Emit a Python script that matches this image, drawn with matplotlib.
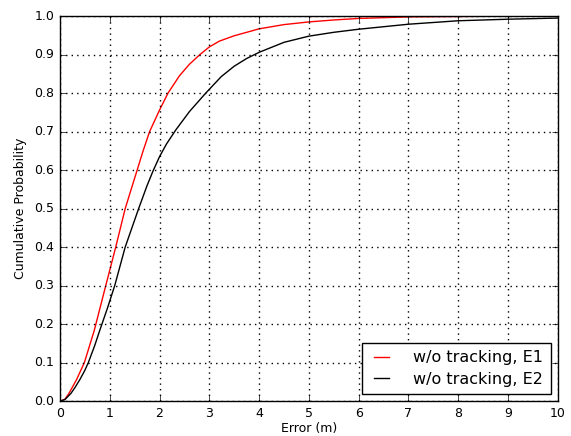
import matplotlib
matplotlib.use("Agg")
import matplotlib.pyplot as plt

# Data (error in m, cumulative probability)
e1_x = [0.0, 0.1, 0.18, 0.33, 0.49, 0.69, 0.92, 1.12, 1.31, 1.55, 1.67, 1.80, 2.0, 2.17, 2.4, 2.6, 2.81, 3.0, 3.2, 3.5, 4.0, 4.5, 5.0, 5.5, 6.0, 7.0, 8.0, 9.0, 10.0]
e1_y = [0.0, 0.005, 0.02, 0.055, 0.1, 0.184, 0.3, 0.4, 0.5, 0.6, 0.65, 0.7, 0.756, 0.8, 0.845, 0.875, 0.9, 0.92, 0.935, 0.949, 0.967, 0.978, 0.985, 0.99, 0.994, 0.998, 0.999, 1.0, 1.0]

e2_x = [0.0, 0.1, 0.22, 0.3, 0.4, 0.5, 0.57, 0.7, 0.80, 0.95, 1.10, 1.31, 1.58, 1.75, 1.87, 2.0, 2.14, 2.33, 2.6, 2.9, 3.0, 3.24, 3.5, 3.75, 4.0, 4.5, 5.0, 5.5, 6.0, 7.0, 8.0, 9.0, 10.0]
e2_y = [0.0, 0.004, 0.02, 0.035, 0.056, 0.08, 0.1, 0.145, 0.184, 0.24, 0.3, 0.4, 0.5, 0.56, 0.598, 0.635, 0.668, 0.705, 0.752, 0.796, 0.81, 0.843, 0.87, 0.89, 0.906, 0.932, 0.948, 0.958, 0.966, 0.979, 0.988, 0.992, 0.995]

labels = ["w/o tracking, E1", "w/o tracking, E2"]
x_ticks = list(range(0, 11))
y_ticks = [i / 10 for i in range(0, 11)]

plt.style.use("classic")
fig = plt.figure(figsize=(5.71, 4.36), dpi=100, facecolor="white")
ax = fig.add_axes([0.105, 0.080, 0.872, 0.883])
ax.plot(e1_x, e1_y, color="red", lw=1.0, label=labels[0])
ax.plot(e2_x, e2_y, color="black", lw=1.0, label=labels[1])
ax.set_xlim(0, 10)
ax.set_ylim(0, 1)
ax.set_xticks(x_ticks)
ax.set_yticks(y_ticks)
ax.set_xticklabels([str(t) for t in x_ticks])
ax.set_yticklabels([f"{t:.1f}" for t in y_ticks])
ax.tick_params(labelsize=9, direction="in", top=True, right=True)
ax.grid(True, linestyle=":", color="black", linewidth=1.0)
ax.set_xlabel("Error (m)", fontsize=9, labelpad=2)
ax.set_ylabel("Cumulative Probability", fontsize=9)
leg = ax.legend(loc="lower right", fontsize=11.5, frameon=True, fancybox=False,
                handlelength=1.55, handletextpad=1.25, borderpad=0.45,
                labelspacing=0.4, borderaxespad=0.45)
leg.get_frame().set_edgecolor("black")
fig.savefig("out.png", dpi=100, facecolor="white")
